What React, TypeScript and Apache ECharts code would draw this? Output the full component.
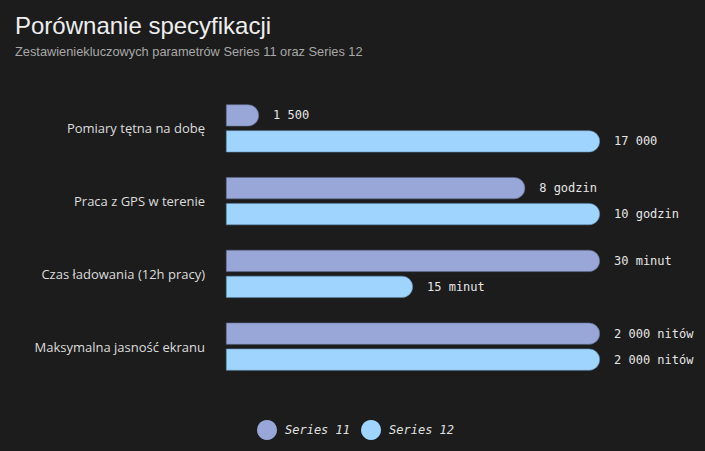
import { useEffect, useRef } from "react";
import * as echarts from "echarts";

const categories = [
  "Pomiary tętna na dobę",
  "Praca z GPS w terenie",
  "Czas ładowania (12h pracy)",
  "Maksymalna jasność ekranu",
];
const series11Raw = [1500, 8, 30, 2000];
const series12Raw = [17000, 10, 15, 2000];
const series11Labels = ["1 500", "8 godzin", "30 minut", "2 000 nitów"];
const series12Labels = ["17 000", "10 godzin", "15 minut", "2 000 nitów"];

const categoryMax = categories.map((_, i) => Math.max(series11Raw[i], series12Raw[i]));
const series11Share = series11Raw.map((v, i) => (v / categoryMax[i]) * 100);
const series12Share = series12Raw.map((v, i) => (v / categoryMax[i]) * 100);

const MONO = "'DejaVu Sans Mono', 'Liberation Mono', monospace";

const App = () => {
  const chartRef = useRef<HTMLDivElement | null>(null);

  useEffect(() => {
    document.body.style.margin = "0";
    if (!chartRef.current) {
      return;
    }
    const instance = echarts.init(chartRef.current, undefined, { renderer: "svg" });

    const barLabel = (texts: string[]) => ({
      show: true,
      position: "right" as const,
      distance: 14,
      color: "#e6e6e6",
      fontFamily: MONO,
      fontSize: 12,
      formatter: (p: { dataIndex: number }) => texts[p.dataIndex],
    });

    const option: echarts.EChartsOption = {
      animation: false,
      backgroundColor: "#1c1c1c",
      title: {
        text: "Porównanie specyfikacji",
        subtext: "Zestawieniekluczowych parametrów Series 11 oraz Series 12",
        left: 10,
        top: 8,
        itemGap: 8,
        textStyle: {
          color: "#eeeeee",
          fontFamily: "'Liberation Sans', Arial, sans-serif",
          fontSize: 24,
          fontWeight: "normal",
        },
        subtextStyle: {
          color: "#a8a8a8",
          fontFamily: "'Liberation Sans', Arial, sans-serif",
          fontSize: 12.8,
        },
      },
      legend: {
        bottom: 6,
        left: 252,
        icon: "circle",
        itemWidth: 20,
        itemHeight: 20,
        itemGap: 11,
        itemStyle: { borderWidth: 0 },
        textStyle: {
          color: "#e0e0e0",
          fontFamily: MONO,
          fontStyle: "italic",
          fontSize: 12,
          padding: [0, 0, 0, 3],
        },
        data: ["Series 11", "Series 12"],
      },
      grid: {
        left: 226,
        right: 105,
        top: 92,
        bottom: 68,
      },
      xAxis: {
        type: "value",
        min: 0,
        max: 100,
        show: false,
      },
      yAxis: {
        type: "category",
        inverse: true,
        data: categories,
        axisLine: { show: false },
        axisTick: { show: false },
        axisLabel: {
          margin: 21,
          color: "#dddddd",
          fontFamily: "'Open Sans', sans-serif",
          fontSize: 13,
        },
      },
      series: [
        {
          name: "Series 11",
          type: "bar",
          data: series11Share,
          barWidth: 22,
          barGap: "18%",
          itemStyle: {
            color: "#98a6d8",
            borderRadius: [0, 11, 11, 0],
            borderColor: "#5f6b8f",
            borderWidth: 0.6,
          },
          label: barLabel(series11Labels),
        },
        {
          name: "Series 12",
          type: "bar",
          data: series12Share,
          barWidth: 22,
          itemStyle: {
            color: "#9fd4ff",
            borderRadius: [0, 11, 11, 0],
            borderColor: "#5f87a6",
            borderWidth: 0.6,
          },
          label: barLabel(series12Labels),
        },
      ],
    };

    instance.setOption(option);
    return () => {
      instance.dispose();
    };
  }, []);

  return <div ref={chartRef} style={{ width: 705, height: 451 }} />;
};

export default App;
